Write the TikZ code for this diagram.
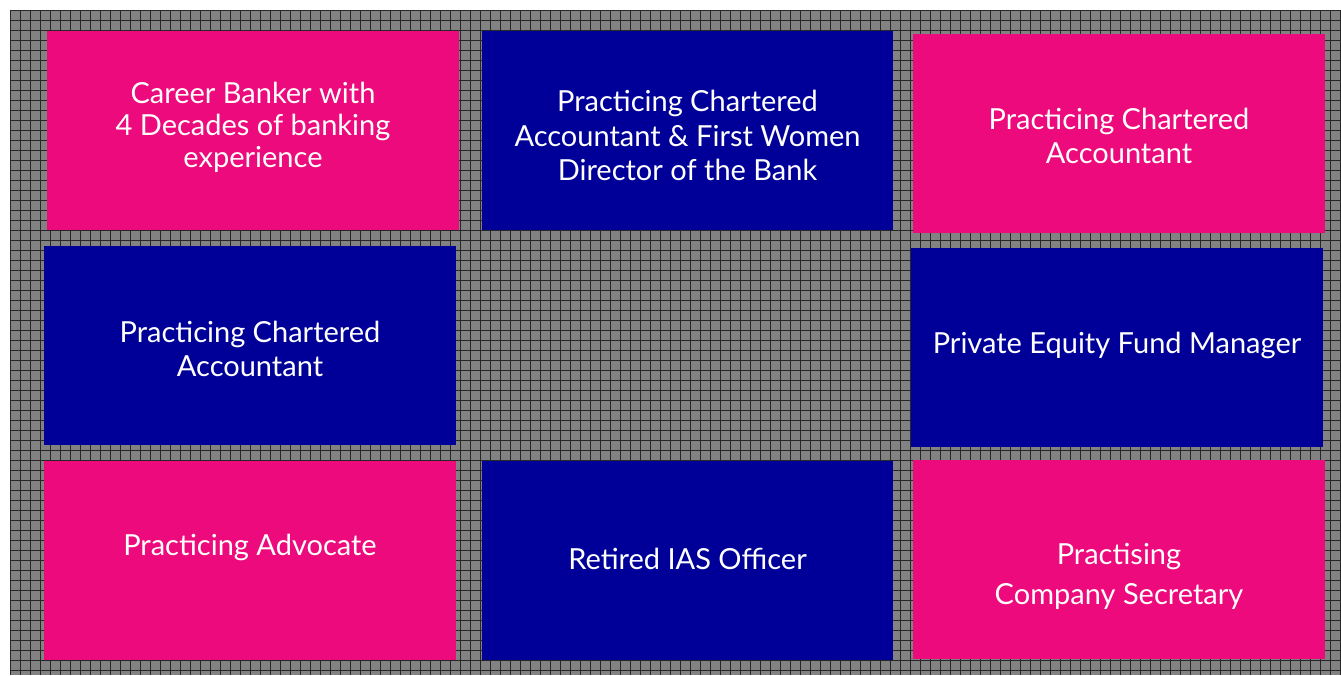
\documentclass[tikz,border=0pt]{standalone}
\usepackage{fontspec}
\setmainfont{Lato}
\usepackage{xcolor}
\usetikzlibrary{positioning}

\definecolor{cellpink}{RGB}{236,10,124}
\definecolor{cellblue}{RGB}{0,0,153}
\definecolor{meshgray}{RGB}{130,130,130}

\tikzset{
  cell/.style={rectangle, minimum width=412pt, minimum height=199pt, inner sep=0pt},
  pinkcell/.style={cell, fill=cellpink},
  bluecell/.style={cell, fill=cellblue},
  caption/.style={text=white, align=center, inner sep=0pt, font=\fontsize{29}{34}\selectfont},
}

\begin{document}
\begin{tikzpicture}[x=1pt, y=-1pt]
  \useasboundingbox (0,0) rectangle (1341,675);
  % mesh background
  \fill[meshgray] (10,10) rectangle (1341,675);
  \foreach \gx in {10,20,...,1340}
    \draw[black!85, line width=0.9pt] (\gx,10) -- (\gx,675);
  \foreach \gy in {10,20,...,670}
    \draw[black!85, line width=0.9pt] (10,\gy) -- (1341,\gy);

  % top row
  \node[pinkcell] (banker) at (253,130.5) {};
  \node[bluecell, minimum width=411pt] (director) at (687.5,130.5) {};
  \node[pinkcell] (ca1) at (1119,133) {};
  % middle row
  \node[bluecell] (ca2) at (250,345.5) {};
  \node[bluecell] (equity) at (1117,347.5) {};
  % bottom row
  \node[pinkcell] (advocate) at (250,560.5) {};
  \node[bluecell, minimum width=411pt] (ias) at (687.5,560.5) {};
  \node[pinkcell] (secretary) at (1119,559) {};

  % texts
  \node[caption, font=\fontsize{29}{32}\selectfont] (banker-txt) at ([yshift=3pt]banker.center) {Career Banker with\\4 Decades of banking\\experience};
  \node[caption, font=\fontsize{29}{34.5}\selectfont] (director-txt) at ([yshift=-5pt]director.center) {Practicing Chartered\\Accountant \& First Women\\Director of the Bank};
  \node[caption] (ca1-txt) at ([yshift=-3pt]ca1.center) {Practicing Chartered\\Accountant};
  \node[caption] (ca2-txt) at ([yshift=-3.5pt]ca2.center) {Practicing Chartered\\Accountant};
  \node[caption] (equity-txt) at ([yshift=2.5pt]equity.center) {Private Equity Fund Manager};
  \node[caption] (advocate-txt) at ([yshift=13pt]advocate.center) {Practicing Advocate};
  \node[caption] (ias-txt) at ([yshift=2pt]ias.center) {Retired IAS Officer};
  \node[caption, font=\fontsize{29}{40}\selectfont] (secretary-txt) at ([yshift=-17pt]secretary.center) {Practising\\Company Secretary};
\end{tikzpicture}
\end{document}
